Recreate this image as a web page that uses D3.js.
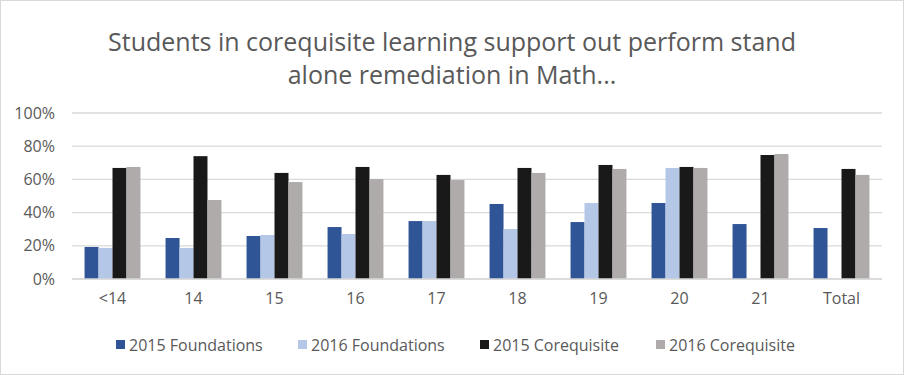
<!DOCTYPE html>
<html>
<head>
<meta charset="utf-8">
<script src="https://cdn.jsdelivr.net/npm/d3@7"></script>
<style>
  body { margin: 0; background: #fff; }
  svg { display: block; font-family: "Open Sans", sans-serif; }
</style>
</head>
<body>
<div class="chart"></div>
<script>
var categories = ["<14", "14", "15", "16", "17", "18", "19", "20", "21", "Total"];
var seriesNames = ["2015 Foundations", "2016 Foundations", "2015 Corequisite", "2016 Corequisite"];
var found2015 = [0.193, 0.247, 0.259, 0.313, 0.349, 0.452, 0.343, 0.458, 0.331, 0.307];
var found2016 = [0.187, 0.187, 0.265, 0.271, 0.349, 0.301, 0.458, 0.669, 0, 0];
var coreq2015 = [0.669, 0.740, 0.639, 0.675, 0.627, 0.669, 0.687, 0.675, 0.747, 0.663];
var coreq2016 = [0.675, 0.476, 0.584, 0.602, 0.596, 0.639, 0.663, 0.669, 0.753, 0.627];
var yTicks = [0, 0.2, 0.4, 0.6, 0.8, 1.0];
var colors = ["#2F5597", "#B4C7E7", "#191919", "#AFABAB"];

var w = 904;
var h = 375;
var plotLeft = 72, plotRight = 882, plotTop = 113, plotBottom = 279;

var series = [found2015, found2016, coreq2015, coreq2016];

var svg = d3.select(".chart")
            .append("svg")
            .attr("width", w)
            .attr("height", h);

svg.append("rect")
    .attr("x", 0.5).attr("y", 0.5)
    .attr("width", w - 1).attr("height", h - 1)
    .attr("fill", "#fff")
    .attr("stroke", "#D9D9D9");

//Title
var title = svg.append("text")
    .attr("text-anchor", "middle")
    .attr("fill", "#595959")
    .style("font-size", "25px");
title.append("tspan").attr("x", w / 2).attr("y", 51)
    .text("Students in corequisite learning support out perform stand");
title.append("tspan").attr("x", w / 2).attr("y", 84)
    .text("alone remediation in Math...");

var xScale = d3.scaleBand()
               .domain(categories)
               .range([plotLeft, plotRight])
               .paddingInner(0.31)
               .paddingOuter(0.155);

var x1 = d3.scaleBand()
           .domain(d3.range(series.length))
           .range([0, xScale.bandwidth()]);

var yScale = d3.scaleLinear()
               .domain([0, 1])
               .range([plotBottom, plotTop]);

//Gridlines
svg.append("g")
    .selectAll("line")
    .data(yTicks)
    .enter()
    .append("line")
    .attr("x1", plotLeft)
    .attr("x2", plotRight)
    .attr("y1", function(d){ return yScale(d); })
    .attr("y2", function(d){ return yScale(d); })
    .attr("stroke", "#D9D9D9")
    .attr("stroke-width", 1.3);

//Bars
var groups = svg.append("g")
    .selectAll("g")
    .data(series)
    .enter()
    .append("g")
    .attr("fill", function(d, i){ return colors[i]; });

groups.each(function(vals, si){
    d3.select(this).selectAll("rect")
        .data(vals)
        .enter()
        .append("rect")
        .attr("x", function(d, i){ return xScale(categories[i]) + x1(si); })
        .attr("width", x1.bandwidth())
        .attr("y", function(d){ return yScale(d); })
        .attr("height", function(d){ return yScale(0) - yScale(d); });
});

//Baseline over bars
svg.append("line")
    .attr("x1", plotLeft).attr("x2", plotRight)
    .attr("y1", yScale(0)).attr("y2", yScale(0))
    .attr("stroke", "#D9D9D9")
    .attr("stroke-width", 1.3);

//Y axis labels
var yAxis = d3.axisLeft(yScale)
    .tickValues(yTicks)
    .tickFormat(d3.format(".0%"))
    .tickSize(0)
    .tickPadding(17);

svg.append("g")
    .attr("transform", "translate(" + plotLeft + ",0)")
    .call(yAxis)
    .call(function(g){ g.select(".domain").remove(); })
    .selectAll("text")
    .attr("fill", "#595959")
    .style("font-size", "16px")
    .style("font-family", "Open Sans");

//X axis labels
var xAxis = d3.axisBottom(xScale).tickSize(0).tickPadding(14);

svg.append("g")
    .attr("transform", "translate(0," + plotBottom + ")")
    .call(xAxis)
    .call(function(g){ g.select(".domain").remove(); })
    .selectAll("text")
    .attr("fill", "#595959")
    .style("font-size", "16px")
    .style("font-family", "Open Sans");

//Legend
var legendX = [116, 298, 480, 656];
var legend = svg.append("g")
    .selectAll("g")
    .data(seriesNames)
    .enter()
    .append("g")
    .attr("transform", function(d, i){ return "translate(" + legendX[i] + ",345)"; });

legend.append("rect")
    .attr("x", 0).attr("y", -5)
    .attr("width", 9).attr("height", 9)
    .attr("fill", function(d, i){ return colors[i]; });

legend.append("text")
    .attr("x", 13)
    .attr("y", 5.5)
    .attr("fill", "#595959")
    .style("font-size", "16px")
    .text(function(d){ return d; });
</script>
</body>
</html>
